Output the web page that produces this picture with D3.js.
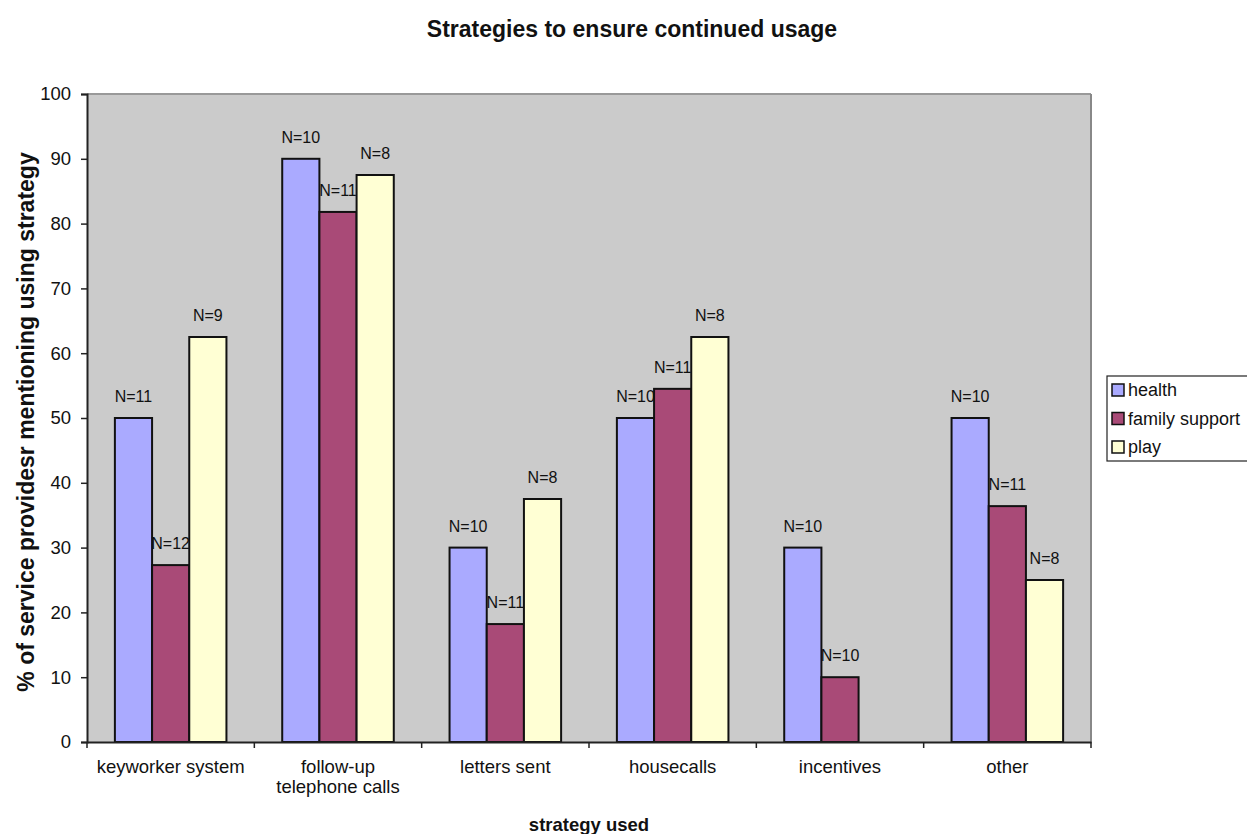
<!DOCTYPE html>
<html>
<head>
<meta charset="utf-8">
<script src="https://cdn.jsdelivr.net/npm/d3@7"></script>
<style>
  html, body { margin: 0; padding: 0; background: #fff; }
  svg { display: block; font-family: "Liberation Sans", Arial, sans-serif; }
</style>
</head>
<body>
<svg id="chart" width="1247" height="834"></svg>
<script>
// Categories (label lines) and series
const categories = ["keyworker system", "follow-up telephone calls", "letters sent", "housecalls", "incentives", "other"];
const categoryLines = [["keyworker system"], ["follow-up", "telephone calls"], ["letters sent"], ["housecalls"], ["incentives"], ["other"]];
const seriesNames = ["health", "family support", "play"];
const healthValues = [50, 90, 30, 50, 30, 50];
const familyValues = [27.3, 81.8, 18.2, 54.5, 10, 36.4];
const playValues = [62.5, 87.5, 37.5, 62.5, null, 25];
const healthN = ["N=11", "N=10", "N=10", "N=10", "N=10", "N=10"];
const familyN = ["N=12", "N=11", "N=11", "N=11", "N=10", "N=11"];
const playN = ["N=9", "N=8", "N=8", "N=8", null, "N=8"];
const yTicks = [0, 10, 20, 30, 40, 50, 60, 70, 80, 90, 100];
const seriesColors = ["#aaaaff", "#a94a77", "#ffffd4"];

const seriesValues = [healthValues, familyValues, playValues];
const seriesLabels = [healthN, familyN, playN];

const svg = d3.select("#chart");
const plot = { left: 87, right: 1091, top: 94, bottom: 742 };

const x0 = d3.scaleBand().domain(categories).range([plot.left, plot.right]).paddingInner(0).paddingOuter(0);
const x1 = d3.scaleBand().domain(seriesNames).range([0, x0.bandwidth()]).paddingInner(0).paddingOuter(0.75);
const y = d3.scaleLinear().domain([0, 100]).range([plot.bottom, plot.top]);

// plot background
svg.append("rect")
  .attr("x", plot.left).attr("y", plot.top)
  .attr("width", plot.right - plot.left).attr("height", plot.bottom - plot.top)
  .attr("fill", "#cbcbcb");
// top and right frame
svg.append("line").attr("x1", plot.left).attr("x2", plot.right).attr("y1", plot.top).attr("y2", plot.top)
  .attr("stroke", "#999").attr("stroke-width", 2);
svg.append("line").attr("x1", plot.right).attr("x2", plot.right).attr("y1", plot.top).attr("y2", plot.bottom)
  .attr("stroke", "#888").attr("stroke-width", 2);

// bars
const groups = svg.append("g").selectAll("g")
  .data(categories)
  .join("g")
  .attr("transform", d => `translate(${x0(d)},0)`);

seriesNames.forEach((s, si) => {
  groups.each(function (cat, ci) {
    const v = seriesValues[si][ci];
    if (v == null) return;
    const g = d3.select(this);
    g.append("rect")
      .attr("x", x1(s))
      .attr("y", y(v))
      .attr("width", x1.bandwidth())
      .attr("height", y(0) - y(v))
      .attr("fill", seriesColors[si])
      .attr("stroke", "#111")
      .attr("stroke-width", 2);
    const lab = seriesLabels[si][ci];
    if (lab) {
      g.append("text")
        .attr("x", x1(s) + x1.bandwidth() / 2)
        .attr("y", y(v) - 16)
        .attr("text-anchor", "middle")
        .attr("font-size", 16)
        .attr("fill", "#111")
        .text(lab);
    }
  });
});

// y axis
const yAxis = svg.append("g")
  .attr("transform", `translate(${plot.left},0)`)
  .call(d3.axisLeft(y).tickValues(yTicks).tickSize(6).tickPadding(10));
yAxis.select(".domain").attr("stroke", "#222").attr("stroke-width", 2);
yAxis.selectAll(".tick line").attr("stroke", "#222").attr("stroke-width", 1.5);
yAxis.selectAll(".tick text").attr("font-size", 18.5).attr("fill", "#111")
  .attr("font-family", "Liberation Sans, Arial, sans-serif");

// x axis
const xAxis = svg.append("g")
  .attr("transform", `translate(0,${plot.bottom})`)
  .call(d3.axisBottom(x0).tickSize(0).tickFormat(""));
xAxis.select(".domain").attr("stroke", "#222").attr("stroke-width", 2);
// category boundary ticks
const boundaries = categories.map(c => x0(c)).concat([plot.right]);
xAxis.selectAll(".bound")
  .data(boundaries)
  .join("line")
  .attr("class", "bound")
  .attr("x1", d => d).attr("x2", d => d)
  .attr("y1", 0).attr("y2", 6)
  .attr("stroke", "#222").attr("stroke-width", 1.5);
// category labels
categories.forEach((c, i) => {
  const t = svg.append("text")
    .attr("x", x0(c) + x0.bandwidth() / 2)
    .attr("y", 773)
    .attr("text-anchor", "middle")
    .attr("font-size", 18.5)
    .attr("fill", "#111");
  categoryLines[i].forEach((line, li) => {
    t.append("tspan")
      .attr("x", x0(c) + x0.bandwidth() / 2)
      .attr("dy", li === 0 ? 0 : 20)
      .text(line);
  });
});

// titles
svg.append("text")
  .attr("x", 632).attr("y", 37)
  .attr("text-anchor", "middle")
  .attr("font-size", 23).attr("font-weight", "bold").attr("fill", "#111")
  .text("Strategies to ensure continued usage");

svg.append("text")
  .attr("x", (plot.left + plot.right) / 2).attr("y", 831)
  .attr("text-anchor", "middle")
  .attr("font-size", 18.5).attr("font-weight", "bold").attr("fill", "#111")
  .text("strategy used");

svg.append("text")
  .attr("transform", `translate(34,${422}) rotate(-90)`)
  .attr("text-anchor", "middle")
  .attr("font-size", 23).attr("font-weight", "bold").attr("fill", "#111")
  .text("% of service providesr mentioning using strategy");

// legend
const legend = svg.append("g");
legend.append("rect")
  .attr("x", 1107).attr("y", 376).attr("width", 150).attr("height", 85)
  .attr("fill", "#fff").attr("stroke", "#222").attr("stroke-width", 1.2);
seriesNames.forEach((s, i) => {
  const cy = 390 + i * 28.5;
  legend.append("rect")
    .attr("x", 1112).attr("y", cy - 6).attr("width", 12).attr("height", 12)
    .attr("fill", seriesColors[i]).attr("stroke", "#111").attr("stroke-width", 1.5);
  legend.append("text")
    .attr("x", 1128).attr("y", cy + 6)
    .attr("font-size", 18).attr("fill", "#111")
    .text(s);
});
</script>
</body>
</html>
